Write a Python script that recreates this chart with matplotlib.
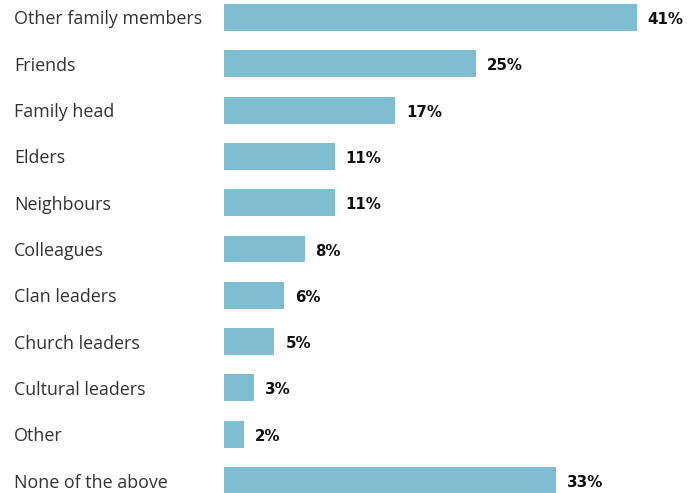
import matplotlib
matplotlib.use('agg')
import matplotlib.pyplot as plt

# Share of respondents per source of advice
categorias = ['Other family members', 'Friends', 'Family head', 'Elders', 'Neighbours',
              'Colleagues', 'Clan leaders', 'Church leaders', 'Cultural leaders', 'Other',
              'None of the above']
porcentajes = [41, 25, 17, 11, 11, 8, 6, 5, 3, 2, 33]

color_barra = '#7fbdd0'

fig = plt.figure(figsize=(6.88, 4.93), dpi=100)
ax = fig.add_axes([224 / 688, 0, 464 / 688, 1])

posiciones = list(range(len(categorias)))
ax.barh(posiciones, porcentajes, height=0.58, color=color_barra)

ax.set_xlim(0, 464 / 10.07)
ax.set_ylim(10 + 12.5 / 46.3, -17.5 / 46.3)
ax.axis('off')

for y, v in zip(posiciones, porcentajes):
    ax.annotate(f'{v}%', xy=(v, y), xytext=(11, -2), textcoords='offset pixels',
                ha='left', va='center', fontsize=10.8, fontweight='bold',
                family='DejaVu Sans', color='#111111')

for y, nombre in zip(posiciones, categorias):
    ax.annotate(nombre, xy=(0, y), xycoords='data', xytext=(14, -2),
                textcoords=('figure pixels', 'offset pixels'),
                ha='left', va='center', fontsize=12.9, family='Open Sans', color='#333333',
                annotation_clip=False)

fig.savefig('out.png', dpi=100)
